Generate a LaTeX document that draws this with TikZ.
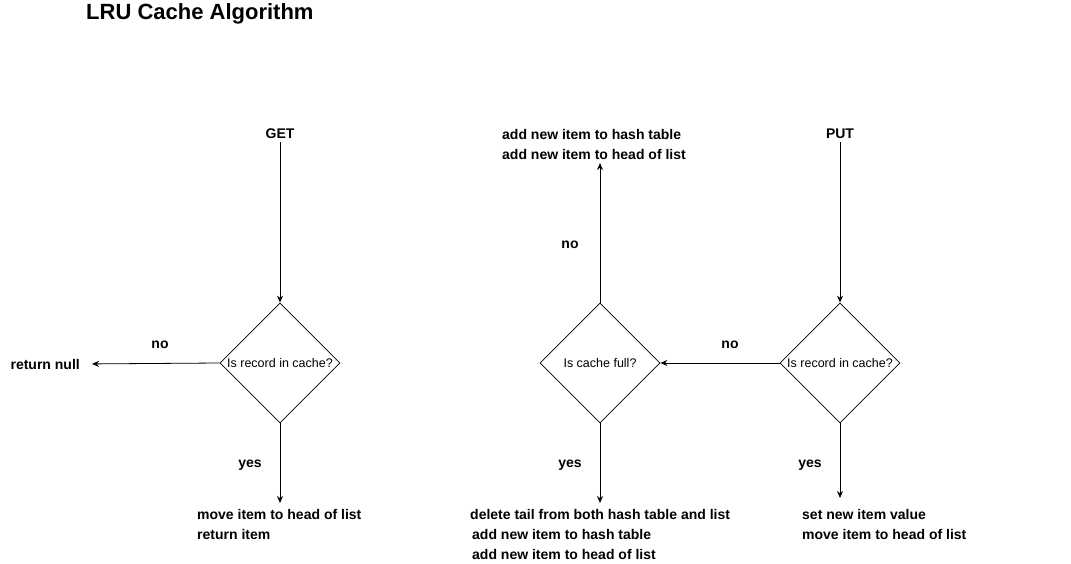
\documentclass[tikz,border=0pt]{standalone}
\usepackage{fontspec}
\setmainfont{Liberation Sans}
\usetikzlibrary{shapes.geometric,arrows.meta}
\begin{document}
\begin{tikzpicture}[x=1pt,y=-1pt,
  lbl/.style={font=\fontsize{14}{20}\selectfont\bfseries, inner sep=0pt, align=left},
  dec/.style={draw=black, line width=0.8pt, diamond, minimum width=120pt, minimum height=120pt, inner sep=-12pt, aspect=1, font=\fontsize{12.5}{14}\selectfont},
  arr/.style={draw=black, line width=0.8pt, -{Stealth[length=7pt,width=6pt]}}]
\useasboundingbox (0,0) rectangle (1071,564);
\node[font=\fontsize{22}{26}\selectfont\bfseries, anchor=west, inner sep=0pt] (title) at (86,14) {LRU Cache Algorithm};

% GET branch
\node[lbl] (get) at (280,134) {GET};
\node[dec] (d1) at (280,363) {Is record in cache?};
\node[lbl, anchor=east] (rn) at (80,364) {return null};
\node[lbl] (no1) at (160,345) {no};
\node[lbl] (yes1) at (250,465) {yes};
\node[lbl, anchor=west] (mv) at (197,524) {move item to head of list\\return item};
\draw[arr, shorten <=3pt] (get) -- (d1.north);
\draw[arr, shorten >=12pt] (d1.west) -- (rn.east);
\draw[arr] (d1.south) -- (d1.south |- 0,503);

% PUT branch
\node[lbl] (put) at (840,134) {PUT};
\node[dec] (d3) at (840,363) {Is record in cache?};
\node[dec] (d2) at (600,363) {Is cache full?};
\node[lbl] (no3) at (730,345) {no};
\node[lbl] (yes3) at (810,465) {yes};
\node[lbl, anchor=west] (set) at (802,524) {set new item value\\move item to head of list};
\node[lbl] (no2) at (570,245) {no};
\node[lbl] (yes2) at (570,465) {yes};
\node[lbl, anchor=west] (addtop) at (502,144) {add new item to hash table\\add new item to head of list};
\node[lbl, anchor=west] (del) at (470,534) {delete tail from both hash table and list\\\hspace*{2pt}add new item to hash table\\\hspace*{2pt}add new item to head of list};
\draw[arr, shorten <=3pt] (put) -- (d3.north);
\draw[arr] (d3.west) -- (d2.east);
\draw[arr] (d3.south) -- (d3.south |- 0,498);
\draw[arr] (d2.north) -- (d2.north |- 0,163);
\draw[arr] (d2.south) -- (d2.south |- 0,503);
\end{tikzpicture}
\end{document}
